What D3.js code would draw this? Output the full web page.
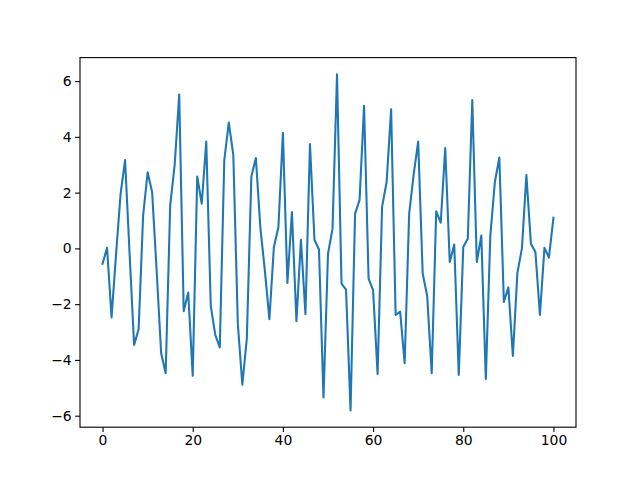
<!DOCTYPE html>
<html>
<head>
<meta charset="utf-8">
<script src="https://cdn.jsdelivr.net/npm/d3@7"></script>
<style>
  body { margin: 0; background: #fff; }
  svg text { font-family: "DejaVu Sans", sans-serif; font-size: 13.9px; fill: #000; }
</style>
</head>
<body>
<svg id="chart" width="640" height="480"></svg>
<script>
// values, x = 0..100
const yValues = [
  -0.55, 0.02, -2.48, -0.2, 1.95, 3.17, -0.2, -3.46, -2.9, 1.18,
  2.73, 2.01, -0.8, -3.76, -4.48, 1.54, 3.0, 5.52, -2.25, -1.58,
  -4.57, 2.58, 1.6, 3.83, -2.06, -3.1, -3.55, 3.17, 4.51, 3.35,
  -2.69, -4.89, -3.23, 2.58, 3.24, 0.75, -0.8, -2.54, 0.05, 0.76,
  4.15, -1.24, 1.3, -2.61, 0.31, -2.36, 3.74, 0.31, -0.04, -5.35,
  -0.19, 0.7, 6.24, -1.26, -1.48, -5.81, 1.24, 1.74, 5.11, -1.08,
  -1.5, -4.5, 1.5, 2.37, 4.99, -2.39, -2.27, -4.12, 1.24, 2.65,
  3.83, -0.9, -1.71, -4.48, 1.33, 0.92, 3.6, -0.49, 0.14, -4.54,
  0.05, 0.35, 5.32, -0.49, 0.46, -4.68, 0.46, 2.37, 3.26, -1.92,
  -1.4, -3.86, -0.88, -0.01, 2.63, 0.17, -0.13, -2.39, 0.02, -0.33,
  1.1
];
const xValues = yValues.map((d, i) => i);
const xTicks = [0, 20, 40, 60, 80, 100];
const yTicks = [-6, -4, -2, 0, 2, 4, 6];

const margin = {left: 80, top: 57.6, width: 496, height: 369.6};

const svg = d3.select('#chart');

// matplotlib-like 5% padding on both axes
let xMin = d3.min(xValues), xMax = d3.max(xValues);
let yMin = d3.min(yValues), yMax = d3.max(yValues);
let xPad = (xMax - xMin) * 0.05, yPad = (yMax - yMin) * 0.05;

let x = d3.scaleLinear()
  .domain([xMin - xPad, xMax + xPad])
  .range([margin.left, margin.left + margin.width]);

let y = d3.scaleLinear()
  .domain([yMin - yPad, yMax + yPad])
  .range([margin.top + margin.height, margin.top]);

let line = d3.line()
  .x((d, i) => x(xValues[i]))
  .y(d => y(d));

svg.append('path')
  .datum(yValues)
  .attr('fill', 'none')
  .attr('stroke', '#1f77b4')
  .attr('stroke-width', 2.08)
  .attr('stroke-linejoin', 'round')
  .attr('stroke-linecap', 'square')
  .attr('d', line);

// frame
svg.append('rect')
  .attr('x', margin.left)
  .attr('y', margin.top)
  .attr('width', margin.width)
  .attr('height', margin.height)
  .attr('fill', 'none')
  .attr('stroke', '#000')
  .attr('stroke-width', 1.1);

let fmt = d3.format('d');

let xAxis = svg.append('g')
  .attr('transform', `translate(0,${margin.top + margin.height})`)
  .call(d3.axisBottom(x).tickValues(xTicks).tickFormat(fmt).tickSize(4.9).tickPadding(3.5));

let yAxis = svg.append('g')
  .attr('transform', `translate(${margin.left},0)`)
  .call(d3.axisLeft(y).tickValues(yTicks).tickFormat(fmt).tickSize(4.9).tickPadding(3.5));

[xAxis, yAxis].forEach(g => {
  g.select('.domain').remove();
  g.selectAll('.tick line').attr('stroke', '#000').attr('stroke-width', 1.1);
  g.selectAll('.tick text').attr('font-family', null).attr('font-size', null);
});
</script>
</body>
</html>
